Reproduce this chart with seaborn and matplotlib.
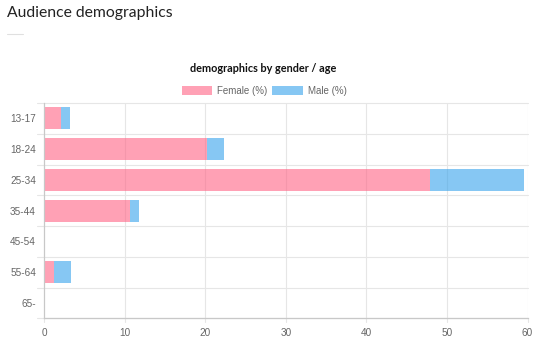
import matplotlib
matplotlib.use("Agg")
import matplotlib.pyplot as plt
from matplotlib.lines import Line2D
from matplotlib.patches import Rectangle
import seaborn as sns
import pandas as pd

age_groups = ["13-17", "18-24", "25-34", "35-44", "45-54", "55-64", "65-"]
female_pct = [2.1, 20.2, 47.9, 10.6, 0.0, 1.2, 0.0]
male_pct = [1.1, 2.1, 11.7, 1.1, 0.0, 2.1, 0.0]
x_ticks = [0, 10, 20, 30, 40, 50, 60]

sns.set_theme(style="white")
plt.rcParams["font.family"] = ["Liberation Sans", "DejaVu Sans"]

pink = (255/255, 99/255, 132/255, 0.6)
blue = (54/255, 162/255, 235/255, 0.6)

df = pd.DataFrame({"age": age_groups, "female": female_pct, "male": male_pct})

W, H = 539, 344
fig = plt.figure(figsize=(W/100, H/100), dpi=100)
ax = fig.add_axes([44.3/W, 1-318.3/H, (527.5-44.3)/W, (318.3-103)/H])

sns.barplot(data=df, y="age", x="female", order=age_groups, color=pink,
            width=0.72, ax=ax, saturation=1, linewidth=0, zorder=2)
sns.barplot(data=df, y="age", x="male", order=age_groups, color=blue,
            width=0.72, ax=ax, saturation=1, linewidth=0, zorder=2,
            left=df["female"].to_numpy())

ax.set_xlim(0, 60)
ax.set_ylim(len(age_groups)-0.5, -0.5)
ax.set_xticks(x_ticks)
ax.set_xticklabels([str(v) for v in x_ticks])
ax.set_xlabel("")
ax.set_ylabel("")

grid_c = "#e6e6e6"
for v in x_ticks[1:]:
    ax.axvline(v, color=grid_c, lw=0.8, zorder=0)
for i in range(len(age_groups)+1):
    ax.axhline(i-0.5, color=grid_c, lw=0.8, zorder=0, clip_on=False)
    ax.plot([-0.9, 0], [i-0.5, i-0.5], color=grid_c, lw=0.8, clip_on=False, zorder=0)
for v in x_ticks:
    ax.plot([v, v], [len(age_groups)-0.5, len(age_groups)-0.5+0.11], color=grid_c,
            lw=0.8, clip_on=False, zorder=0)

for s in ["top", "right"]:
    ax.spines[s].set_visible(False)
ax.spines["left"].set_color("#c8c8c8")
ax.spines["bottom"].set_color("#c8c8c8")
ax.spines["left"].set_linewidth(0.9)
ax.spines["bottom"].set_linewidth(0.9)
ax.spines["left"].set_zorder(3)

ax.tick_params(axis="both", length=0, labelsize=7.2, labelcolor="#666666")
ax.tick_params(axis="y", pad=6)
ax.tick_params(axis="x", pad=7)

fig.text(7/W, 1-13/H, "Audience demographics", fontsize=11.3, family=["Lato", "DejaVu Sans"],
         color="#222222", va="center", ha="left")
fig.add_artist(Line2D([7/W, 23/W], [1-34/H, 1-34/H], color="#e0e0e0", lw=0.8))
fig.text(263/W, 1-68/H, "demographics by gender / age", fontsize=7.8, fontweight="bold",
         family=["Lato", "DejaVu Sans"], color="#111111", va="center", ha="center")

# legend
fig.add_artist(Rectangle((182/W, 1-95/H), 30/W, 9/H, transform=fig.transFigure,
                         facecolor=pink, edgecolor="none"))
fig.text(217/W, 1-90.5/H, "Female (%)", fontsize=7, color="#666666", va="center", ha="left")
fig.add_artist(Rectangle((272/W, 1-95/H), 31/W, 9/H, transform=fig.transFigure,
                         facecolor=blue, edgecolor="none"))
fig.text(308/W, 1-90.5/H, "Male (%)", fontsize=7, color="#666666", va="center", ha="left")

fig.savefig("out.png", dpi=100)
